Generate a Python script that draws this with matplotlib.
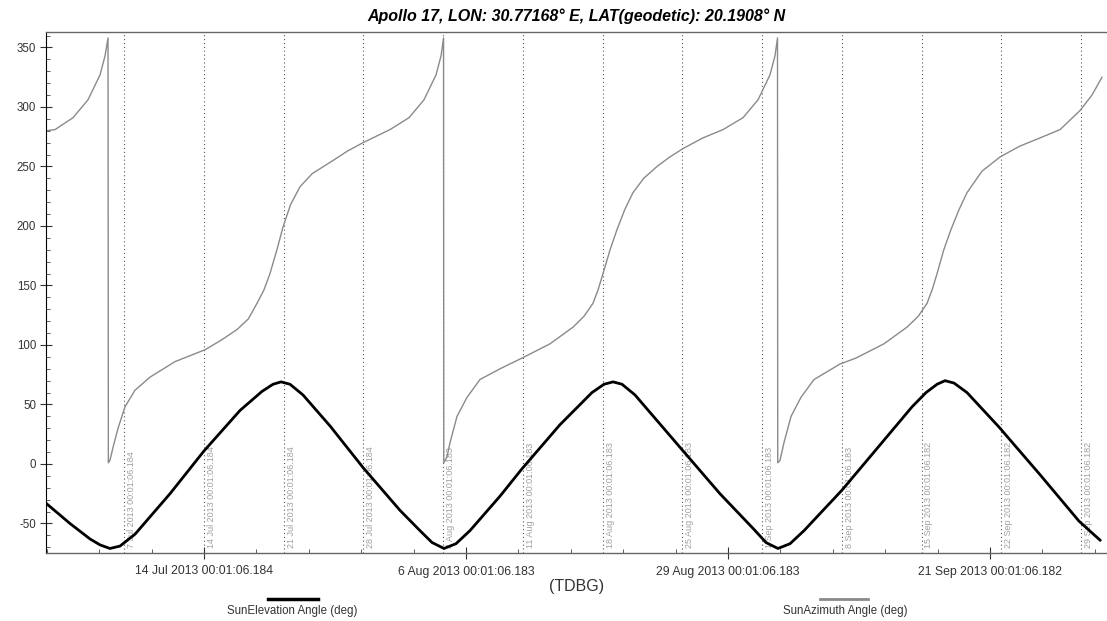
import matplotlib
matplotlib.use("Agg")
import matplotlib.pyplot as plt
from matplotlib.lines import Line2D
from matplotlib.ticker import MultipleLocator

plt.rcParams["font.family"] = ["Liberation Sans", "DejaVu Sans"]
plt.rcParams["axes.unicode_minus"] = False

# x values are days since 2013-06-30 00:00 (TDBG)
elev_day = [0.13, 2.23, 3.99, 4.87, 5.74, 6.62, 7.94, 11.01, 14.00, 17.16,
            19.09, 20.06, 20.76, 21.55, 22.69, 25.06, 27.96, 31.21, 32.96,
            34.02, 35.07, 36.12, 37.35, 39.99, 41.92, 45.25, 48.06, 49.12,
            49.91, 50.70, 51.84, 55.88, 59.30, 62.29, 63.34, 64.39, 65.45,
            66.68, 70.01, 73.35, 76.16, 77.39, 78.36, 79.06, 79.85, 80.99,
            83.80, 87.40, 90.82, 92.67]
elev_deg = [-33, -50, -63, -68, -71, -69, -59, -25, 11, 45,
            61, 67, 69, 67, 58, 32, -3, -39, -56,
            -66, -71, -67, -56, -27, -4, 33, 60, 67,
            69, 67, 58, 13, -25, -55, -66, -71, -67,
            -56, -22, 16, 48, 60, 67, 70, 68, 60,
            31, -9, -48, -64]

azim_day = [0.13, 0.92, 2.50, 3.81, 4.87, 5.31, 5.57,
            5.60, 5.74, 6.01, 6.45, 7.06, 7.94, 9.26, 11.45, 14.09, 15.50,
            16.90, 17.90, 18.65, 19.25, 19.79, 20.40, 20.93, 21.60, 22.43,
            23.50, 25.32, 26.60, 27.96, 30.33, 32.00, 33.31, 34.37, 34.81,
            35.03,
            35.05, 35.33, 35.60, 36.21, 37.09, 38.23, 39.99, 41.92, 44.38,
            46.40, 47.35, 48.15, 48.62, 49.03, 49.65, 50.26, 50.95, 51.66,
            52.60, 53.77, 54.90, 56.05, 57.80, 59.57, 61.32, 62.64, 63.69,
            64.13, 64.35,
            64.37, 64.57, 64.92, 65.54, 66.41, 67.56, 69.84, 71.24, 73.70,
            75.72, 76.70, 77.48, 77.95, 78.36, 78.95, 79.58, 80.30, 80.99,
            82.30, 83.89, 85.60, 87.40, 89.16, 90.91, 91.96, 92.84]
azim_deg = [280, 281, 291, 306, 327, 343, 358,
            1, 3, 14, 30, 48, 62, 73, 86, 96, 104,
            113, 122, 135, 146, 160, 180, 199, 218, 233,
            244, 255, 263, 270, 281, 291, 306, 327, 343,
            358,
            1, 6, 18, 40, 56, 71, 80, 89, 101,
            115, 124, 135, 147, 160, 180, 197, 214, 228,
            240, 250, 258, 265, 274, 281, 291, 306, 327,
            343, 358,
            1, 3, 18, 40, 56, 71, 84, 89, 101,
            115, 124, 135, 147, 160, 180, 197, 214, 228,
            246, 258, 267, 274, 281, 297, 310, 325]

tick_day = [14, 37, 60, 83]
tick_labels = ["14 Jul 2013 00:01:06.184", "6 Aug 2013 00:01:06.183",
               "29 Aug 2013 00:01:06.183", "21 Sep 2013 00:01:06.182"]

grid_day = [7, 14, 21, 28, 35, 42, 49, 56, 63, 70, 77, 84, 91]
grid_labels = ["7 Jul 2013 00:01:06.184", "14 Jul 2013 00:01:06.184",
               "21 Jul 2013 00:01:06.184", "28 Jul 2013 00:01:06.184",
               "4 Aug 2013 00:01:06.183", "11 Aug 2013 00:01:06.183",
               "18 Aug 2013 00:01:06.183", "25 Aug 2013 00:01:06.183",
               "1 Sep 2013 00:01:06.183", "8 Sep 2013 00:01:06.183",
               "15 Sep 2013 00:01:06.182", "22 Sep 2013 00:01:06.182",
               "29 Sep 2013 00:01:06.182"]

title = "Apollo 17, LON: 30.77168° E, LAT(geodetic): 20.1908° N"

W, H = 1107, 621
fig = plt.figure(figsize=(W / 100, H / 100), dpi=100)
ax = fig.add_axes([46 / W, 68 / H, (W - 46) / W, 521 / H])

for d, lab in zip(grid_day, grid_labels):
    ax.axvline(d, color="#555555", lw=0.8, ls=(0, (1, 2.5)), zorder=1)
    ax.text(d + 0.25, -71, lab, rotation=90, fontsize=6.5, color="#a0a0a0",
            ha="left", va="bottom", zorder=1)

ax.plot(azim_day, azim_deg, color="#8a8a8a", lw=1.0, zorder=2)
ax.plot(elev_day, elev_deg, color="black", lw=2.0, zorder=3)

ax.set_xlim(0.125, 93.28)
ax.set_ylim(-74.8, 363)

ax.set_yticks([-50, 0, 50, 100, 150, 200, 250, 300, 350])
ax.yaxis.set_minor_locator(MultipleLocator(10))
ax.set_xticks(tick_day)
ax.set_xticklabels(tick_labels)
ax.set_xticks([14 + 4.6 * k for k in range(-3, 18)], minor=True)

ax.tick_params(axis="both", which="major", direction="inout", length=8,
               width=0.8, colors="#333333")
ax.tick_params(axis="x", which="major", labelsize=8.8, pad=5)
ax.tick_params(axis="y", which="major", labelsize=8.3, pad=3)
ax.tick_params(axis="both", which="minor", direction="in", length=3,
               width=0.6, colors="#444444")

for side in ("top", "bottom"):
    ax.spines[side].set_color("#666666")
    ax.spines[side].set_linewidth(1.0)
ax.spines["left"].set_color("black")
ax.spines["right"].set_visible(False)

ax.set_xlabel("(TDBG)", fontsize=11.5, color="#333333", labelpad=1)

fig.text(576 / W, 1 - 16 / H, title, ha="center", va="center",
         fontsize=11.5, fontweight="bold", style="italic")

# legend entries below the axis
fig.add_artist(Line2D([268 / W, 318 / W], [1 - 599 / H] * 2, color="black",
                      lw=2.5, transform=fig.transFigure))
fig.text(292 / W, 1 - 611 / H, "SunElevation Angle (deg)", ha="center",
         va="center", fontsize=8.3, color="#333333")
fig.add_artist(Line2D([820 / W, 868 / W], [1 - 599 / H] * 2, color="#8a8a8a",
                      lw=2.0, transform=fig.transFigure))
fig.text(845 / W, 1 - 611 / H, "SunAzimuth Angle (deg)", ha="center",
         va="center", fontsize=8.3, color="#333333")

fig.savefig("out.png", dpi=100)
